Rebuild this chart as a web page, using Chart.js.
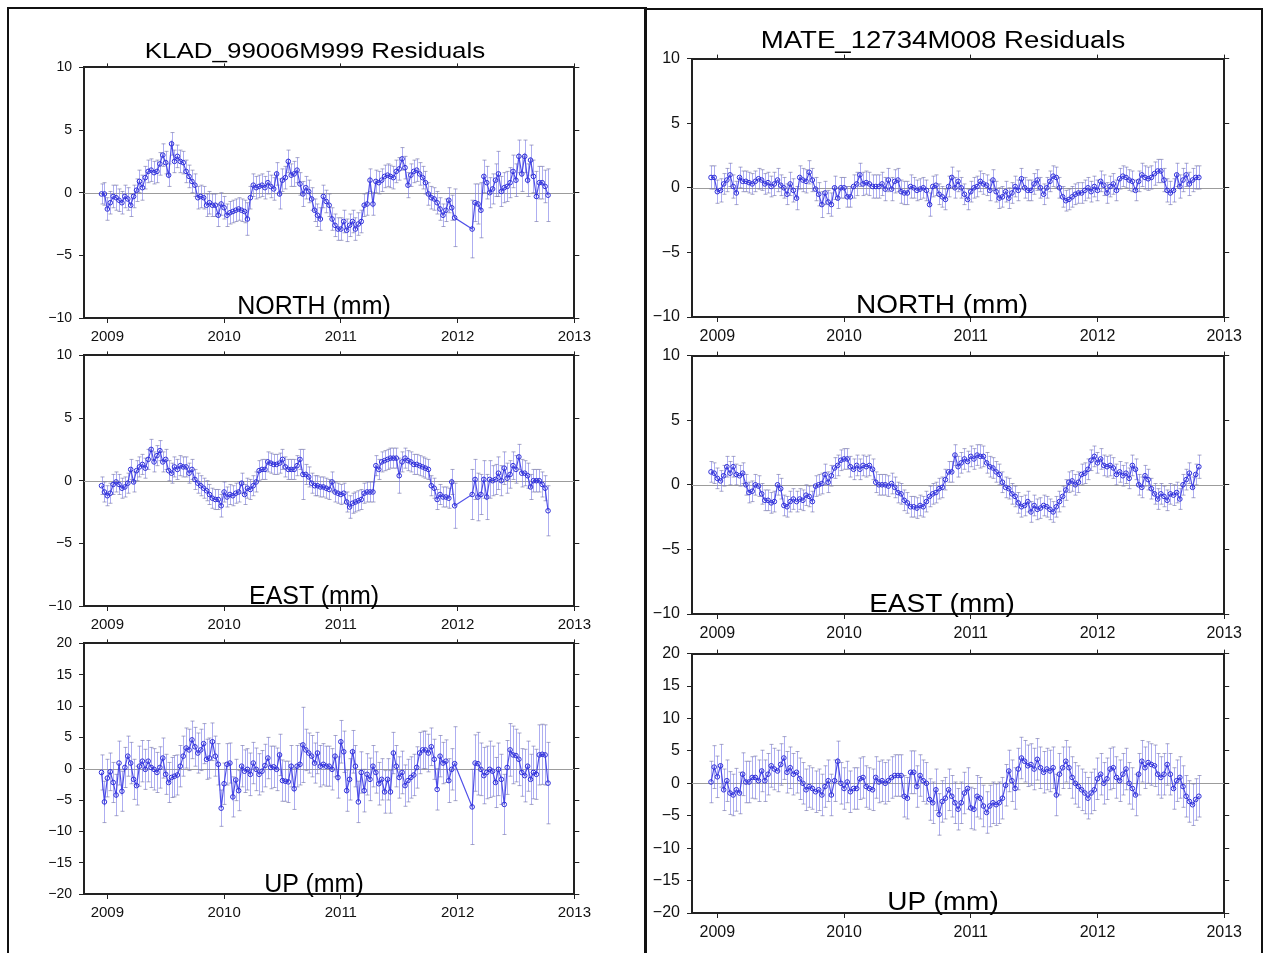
<!DOCTYPE html>
<html>
<head>
<meta charset="utf-8">
<script src="https://cdn.jsdelivr.net/npm/chart.js@4.4.1/dist/chart.umd.min.js"></script>
<style>
html, body { margin: 0; padding: 0; background: #fff; }
#page { position: relative; width: 1265px; height: 953px; overflow: hidden; font-family: "Liberation Sans", Arial, Helvetica, sans-serif; }
canvas { position: absolute; }
.frame { position: absolute; border: 2px solid #111; box-sizing: border-box; }
.lbl { position: absolute; white-space: nowrap; line-height: 1; color: #000; transform-origin: center center; }
</style>
</head>
<body>
<div id="page">
  <div class="frame" style="left:7px;top:7px;width:640px;height:970px;"></div>
  <div class="frame" style="left:644px;top:8px;width:619px;height:970px;"></div>

  <canvas id="kladNorth" width="572" height="296" style="left:24px;top:52px;"></canvas>
  <canvas id="kladEast"  width="572" height="296" style="left:24px;top:340px;"></canvas>
  <canvas id="kladUp"    width="572" height="296" style="left:24px;top:628px;"></canvas>
  <canvas id="mateNorth" width="615" height="305" style="left:632px;top:42px;"></canvas>
  <canvas id="mateEast"  width="615" height="305" style="left:632px;top:339px;"></canvas>
  <canvas id="mateUp"    width="615" height="306" style="left:632px;top:637px;"></canvas>

  <div class="lbl" style="left:315px;top:51px;font-size:22px;transform:translate(-50%,-50%) scaleX(1.18);">KLAD_99006M999 Residuals</div>
  <div class="lbl" style="left:943px;top:40px;font-size:23px;transform:translate(-50%,-50%) scaleX(1.2);">MATE_12734M008 Residuals</div>

  <div class="lbl" style="left:314px;top:305px;font-size:25px;transform:translate(-50%,-50%);">NORTH (mm)</div>
  <div class="lbl" style="left:314px;top:595px;font-size:25px;transform:translate(-50%,-50%);">EAST (mm)</div>
  <div class="lbl" style="left:314px;top:883px;font-size:25px;transform:translate(-50%,-50%);">UP (mm)</div>
  <div class="lbl" style="left:942px;top:304px;font-size:25px;transform:translate(-50%,-50%) scaleX(1.12);">NORTH (mm)</div>
  <div class="lbl" style="left:942px;top:603px;font-size:25px;transform:translate(-50%,-50%) scaleX(1.12);">EAST (mm)</div>
  <div class="lbl" style="left:943px;top:901px;font-size:25px;transform:translate(-50%,-50%) scaleX(1.12);">UP (mm)</div>
</div>

<script>
// axis ticks
const YEAR_TICKS = [2009, 2010, 2011, 2012, 2013];
const NE_TICKS = [-10, -5, 0, 5, 10];
const UP_TICKS = [-20, -15, -10, -5, 0, 5, 10, 15, 20];

// KLAD_99006M999 epochs (decimal year)
const KLAD_T = [
  2008.95,2008.975,2009.0,2009.025,2009.05,2009.075,2009.1,2009.125,
  2009.15,2009.175,2009.2,2009.225,2009.25,2009.275,2009.3,2009.325,
  2009.35,2009.375,2009.4,2009.425,2009.45,2009.475,2009.5,2009.525,
  2009.55,2009.575,2009.6,2009.625,2009.65,2009.675,2009.7,2009.725,
  2009.75,2009.775,2009.8,2009.825,2009.85,2009.875,2009.9,2009.925,
  2009.95,2009.975,2010.0,2010.025,2010.05,2010.075,2010.1,2010.125,
  2010.15,2010.175,2010.2,2010.225,2010.25,2010.275,2010.3,2010.325,
  2010.35,2010.375,2010.4,2010.425,2010.45,2010.475,2010.5,2010.525,
  2010.55,2010.575,2010.6,2010.625,2010.65,2010.675,2010.7,2010.725,
  2010.75,2010.775,2010.8,2010.825,2010.85,2010.875,2010.9,2010.925,
  2010.95,2010.975,2011.0,2011.025,2011.05,2011.075,2011.1,2011.125,
  2011.15,2011.175,2011.2,2011.225,2011.25,2011.275,2011.3,2011.325,
  2011.35,2011.375,2011.4,2011.425,2011.45,2011.475,2011.5,2011.525,
  2011.55,2011.575,2011.6,2011.625,2011.65,2011.675,2011.7,2011.725,
  2011.75,2011.775,2011.8,2011.825,2011.85,2011.875,2011.9,2011.925,
  2011.95,2011.975,
  2012.125,2012.15,2012.175,2012.2,2012.225,2012.25,2012.275,2012.3,
  2012.325,2012.35,2012.375,2012.4,2012.425,2012.45,2012.475,2012.5,
  2012.525,2012.55,2012.575,2012.6,2012.625,2012.65,2012.675,2012.7,
  2012.725,2012.75,2012.775
];

const KLAD_NORTH = [
  -0.1,-0.1,-1.3,-0.8,-0.3,-0.4,-0.6,-0.8,
  -0.3,-0.5,-1.0,-0.3,0.2,0.9,0.4,1.2,
  1.7,1.8,1.6,1.7,2.3,3.0,2.4,1.4,
  3.9,2.5,2.9,2.5,2.4,1.7,1.3,0.9,
  0.6,-0.4,-0.3,-0.4,-1.0,-0.8,-1.0,-1.0,
  -1.8,-0.9,-1.2,-1.8,-1.6,-1.5,-1.4,-1.3,
  -1.4,-1.5,-2.1,-0.4,0.6,0.4,0.5,0.6,
  0.4,0.8,0.5,0.3,1.5,-0.1,1.0,1.2,
  2.5,1.4,1.5,1.8,0.7,-0.1,0.4,0.1,
  -0.5,-1.4,-1.8,-2.1,-0.3,-0.7,-1.0,-2.1,
  -2.6,-2.9,-2.9,-2.3,-3.0,-2.6,-2.3,-2.9,
  -2.5,-2.3,-1.0,-0.9,1.0,-0.9,0.9,0.8,
  1.0,1.3,1.4,1.3,1.2,1.7,1.9,2.7,
  2.0,0.6,1.4,1.7,1.8,1.5,1.2,0.8,
  -0.1,-0.4,-0.5,-0.8,-1.3,-1.8,-1.4,-0.6,
  -1.2,-2.0,
  -2.9,-0.8,-0.9,-1.4,1.3,0.8,0.0,0.3,
  1.0,1.5,0.1,0.4,0.5,0.8,1.7,1.0,
  2.9,1.5,2.9,1.0,2.6,1.3,-0.3,0.8,
  0.8,0.5,-0.2
];
const KLAD_NORTH_ERR = [
  0.8,0.9,0.9,0.9,0.9,1.0,0.9,0.9,
  0.9,0.9,0.9,0.9,0.9,0.9,1.0,0.9,
  0.9,0.9,0.9,0.9,0.9,0.9,0.9,0.9,
  0.9,0.9,0.9,0.9,0.9,0.9,0.9,0.9,
  0.9,0.9,0.9,0.9,0.9,0.9,0.9,0.9,
  0.9,0.9,0.9,0.9,0.9,0.9,0.9,0.9,
  0.9,0.9,1.3,0.9,0.9,0.9,0.9,0.9,
  0.9,0.9,0.9,0.9,0.9,1.2,0.9,0.9,
  0.9,0.9,1.0,1.0,0.9,1.0,0.9,0.9,
  0.9,0.9,0.9,0.9,0.9,0.9,0.9,0.9,
  0.9,0.9,0.9,0.9,0.9,0.9,0.9,0.9,
  0.9,0.9,0.9,0.9,0.9,0.9,0.9,0.9,
  0.9,0.9,0.9,0.9,0.9,0.9,0.9,0.9,
  0.9,1.0,0.9,0.9,0.9,0.9,0.9,0.9,
  0.9,0.9,0.9,0.9,0.9,0.9,0.9,1.0,
  1.0,2.3,
  2.3,1.5,1.6,2.2,1.3,1.3,1.2,1.2,
  1.3,1.8,1.2,1.2,1.2,1.2,1.3,1.3,
  1.3,1.4,1.3,1.3,1.2,1.3,2.0,1.3,
  1.3,1.3,2.1
];

const KLAD_EAST = [
  -0.4,-0.9,-1.2,-1.0,-0.3,-0.1,-0.3,-0.6,
  -0.5,-0.2,0.9,-0.1,0.8,1.1,1.3,1.0,
  1.7,2.5,1.5,2.0,2.4,1.5,1.7,0.8,
  0.6,1.1,0.9,1.2,1.1,1.1,0.6,0.9,
  0.1,-0.2,-0.4,-0.6,-0.8,-1.1,-1.4,-1.5,
  -1.5,-2.0,-0.9,-1.3,-1.1,-1.2,-1.0,-0.9,
  -0.2,-1.1,-0.6,-0.7,-0.4,-0.1,0.8,0.9,
  0.9,1.5,1.4,1.3,1.3,1.4,1.7,1.1,
  0.9,0.9,0.9,1.2,1.7,0.5,0.5,0.3,
  -0.2,-0.4,-0.4,-0.5,-0.5,-0.6,-0.7,-0.1,
  -0.9,-1.0,-1.1,-1.0,-1.7,-2.1,-1.8,-1.7,
  -1.6,-1.5,-1.0,-0.9,-0.9,-0.9,1.2,0.9,
  1.5,1.6,1.7,1.8,1.8,1.8,0.4,1.5,
  1.8,1.6,1.5,1.3,1.3,1.2,1.1,1.0,
  0.9,-0.4,-0.6,-1.5,-1.1,-1.3,-1.3,-1.4,
  -0.1,-2.0,
  -1.1,0.1,-1.3,-1.1,0.1,-1.3,0.1,0.0,
  0.1,0.6,0.0,1.0,0.2,0.5,1.2,0.9,
  1.9,0.6,0.6,0.4,-0.5,0.0,0.0,0.0,
  -0.3,-0.6,-2.4
];
const KLAD_EAST_ERR = [
  0.7,0.8,0.8,0.8,0.8,0.8,0.8,0.8,
  0.8,0.8,0.8,0.8,0.8,0.8,0.8,0.8,
  0.8,0.8,0.8,0.8,0.8,0.8,0.8,0.8,
  0.8,0.8,0.8,0.8,0.8,0.8,0.8,0.8,
  0.8,0.8,0.8,0.8,0.8,0.8,0.8,0.8,
  0.8,0.9,0.8,0.8,0.8,0.8,0.8,0.8,
  0.8,0.8,0.8,0.8,0.8,0.8,0.8,0.8,
  0.8,0.8,0.8,0.8,0.8,0.8,0.8,0.8,
  0.8,0.8,0.8,0.8,0.8,2.0,0.8,0.8,
  0.8,0.8,0.8,0.8,0.8,0.8,0.8,0.8,
  0.8,0.8,0.8,0.8,0.8,0.9,0.8,0.8,
  0.8,0.8,0.8,0.8,0.8,0.8,0.8,0.8,
  0.8,0.8,0.8,0.8,0.8,0.8,1.4,0.8,
  0.8,0.8,0.8,0.8,0.8,0.8,0.8,0.8,
  0.8,0.8,0.8,0.8,0.8,0.8,0.8,0.8,
  1.0,1.8,
  2.0,1.6,1.9,1.6,1.5,1.8,1.5,1.2,
  1.2,1.3,1.2,1.3,1.2,1.1,1.1,1.1,
  1.0,1.1,1.0,1.0,1.0,0.9,0.9,0.9,
  1.0,1.0,2.0
];

const KLAD_UP = [
  -0.6,-5.3,-1.5,-0.5,-2.2,-4.2,0.9,-3.6,
  0.2,2.0,0.9,-1.7,-2.7,0.4,1.2,-0.1,
  1.2,0.2,-0.1,-0.6,0.2,1.7,-0.9,-2.2,
  -1.4,-1.2,-1.0,0.4,2.0,3.3,3.0,4.6,
  3.5,2.5,3.0,4.0,1.5,1.7,4.3,2.0,
  0.7,-6.3,-2.4,0.7,0.9,-4.5,-1.8,-3.5,
  0.4,-0.4,-0.1,-0.9,0.9,-0.1,-0.9,-0.4,
  0.5,1.7,0.2,0.3,-0.1,2.2,-1.9,-2.0,
  -2.1,0.4,-3.2,0.4,0.7,3.8,3.0,2.5,
  2.0,0.9,2.5,0.4,0.7,0.4,0.4,-0.1,
  2.0,-1.4,4.3,2.7,-3.5,-1.7,2.7,0.4,
  -5.3,-0.6,-3.5,-0.9,-1.7,0.4,-0.6,-2.4,
  -1.7,-3.7,-1.7,-3.7,2.5,0.4,-1.4,-0.6,
  -2.7,-1.9,-1.4,-1.0,0.2,2.5,3.0,3.0,
  2.5,3.5,1.5,-3.3,2.0,0.9,1.2,-1.9,
  -0.1,0.8,
  -6.1,0.9,0.8,-0.1,-1.1,-0.6,-0.1,-0.4,
  -2.2,-0.1,-1.7,-5.7,0.2,3.0,2.2,2.1,
  1.5,-0.6,-1.1,0.4,-1.7,-0.6,-0.9,2.2,
  2.3,2.2,-2.3
];
const KLAD_UP_ERR = [
  2.8,3.3,3.0,3.0,3.2,3.3,3.5,3.2,
  3.2,3.2,3.3,3.2,3.1,3.2,3.3,3.2,
  3.3,3.2,3.3,3.2,3.3,3.2,3.2,3.2,
  3.2,3.3,3.2,3.3,3.2,3.2,3.3,3.0,
  3.1,3.2,3.3,3.2,3.2,3.2,3.0,3.2,
  3.3,2.9,3.3,3.3,3.2,3.2,3.3,3.2,
  3.3,3.4,3.3,3.4,3.3,3.4,3.3,3.3,
  3.4,3.3,3.4,3.3,3.4,3.3,3.3,3.2,
  3.3,3.3,3.3,3.3,3.3,6.0,3.3,3.2,
  3.3,3.2,3.3,3.3,3.3,3.2,3.2,3.3,
  3.3,3.3,3.4,3.3,3.3,3.3,3.4,3.3,
  3.3,3.3,3.4,3.3,3.4,3.3,3.3,3.4,
  3.3,3.4,3.3,3.4,3.3,3.3,3.3,3.4,
  3.3,3.4,3.3,3.3,3.3,3.3,3.0,3.0,
  3.0,3.0,3.2,3.3,3.3,3.3,3.4,3.5,
  3.3,5.9,
  6.0,4.5,5.0,4.2,4.5,4.2,4.5,4.0,
  4.0,4.2,4.0,4.8,4.3,4.2,4.6,4.2,
  4.2,3.8,4.2,4.0,4.0,4.2,4.0,4.8,
  4.8,4.8,6.5
];

// MATE_12734M008 epochs (decimal year)
const MATE_T = [
  2008.95,2008.975,2009.0,2009.025,2009.05,2009.075,2009.1,2009.125,
  2009.15,2009.175,2009.2,2009.225,2009.25,2009.275,2009.3,2009.325,
  2009.35,2009.375,2009.4,2009.425,2009.45,2009.475,2009.5,2009.525,
  2009.55,2009.575,2009.6,2009.625,2009.65,2009.675,2009.7,2009.725,
  2009.75,2009.775,2009.8,2009.825,2009.85,2009.875,2009.9,2009.925,
  2009.95,2009.975,2010.0,2010.025,2010.05,2010.075,2010.1,2010.125,
  2010.15,2010.175,2010.2,2010.225,2010.25,2010.275,2010.3,2010.325,
  2010.35,2010.375,2010.4,2010.425,2010.45,2010.475,2010.5,2010.525,
  2010.55,2010.575,2010.6,2010.625,2010.65,2010.675,2010.7,2010.725,
  2010.75,2010.775,2010.8,2010.825,2010.85,2010.875,2010.9,2010.925,
  2010.95,2010.975,2011.0,2011.025,2011.05,2011.075,2011.1,2011.125,
  2011.15,2011.175,2011.2,2011.225,2011.25,2011.275,2011.3,2011.325,
  2011.35,2011.375,2011.4,2011.425,2011.45,2011.475,2011.5,2011.525,
  2011.55,2011.575,2011.6,2011.625,2011.65,2011.675,2011.7,2011.725,
  2011.75,2011.775,2011.8,2011.825,2011.85,2011.875,2011.9,2011.925,
  2011.95,2011.975,2012.0,2012.025,2012.05,2012.075,2012.1,2012.125,
  2012.15,2012.175,2012.2,2012.225,2012.25,2012.275,2012.3,2012.325,
  2012.35,2012.375,2012.4,2012.425,2012.45,2012.475,2012.5,2012.525,
  2012.55,2012.575,2012.6,2012.625,2012.65,2012.675,2012.7,2012.725,
  2012.75,2012.775,2012.8
];

const MATE_NORTH = [
  0.8,0.8,-0.3,-0.2,0.3,0.6,1.0,0.1,
  -0.4,0.8,0.5,0.5,0.4,0.3,0.5,0.7,
  0.6,0.3,0.4,0.1,0.3,0.6,0.2,0.0,
  -0.5,0.3,-0.2,-0.8,0.8,0.6,0.5,1.2,
  0.6,-0.1,-0.5,-1.3,-0.4,-1.1,-1.3,0.0,
  -0.8,0.0,0.0,-0.7,-0.7,0.1,0.3,1.0,
  0.3,0.4,0.3,0.1,0.1,0.1,0.3,-0.1,
  0.6,-0.1,0.5,0.6,-0.3,-0.4,-0.4,0.1,
  0.0,-0.2,-0.1,0.0,-0.2,-1.3,0.1,0.2,
  -0.5,-0.7,-0.9,0.1,0.8,0.0,0.5,0.0,
  -0.5,-0.9,-0.3,0.0,0.1,0.5,0.3,0.2,
  -0.2,0.6,-0.3,-0.8,-0.7,-0.3,-0.8,-0.4,
  0.1,-0.2,0.7,0.0,-0.2,-0.2,0.3,0.6,
  0.0,-0.5,0.0,0.5,0.9,0.8,0.0,-0.7,
  -1.0,-0.9,-0.7,-0.5,-0.4,-0.4,-0.2,0.0,
  -0.3,0.1,-0.2,0.5,0.2,-0.4,0.1,0.3,
  -0.2,0.7,0.9,0.8,0.6,0.5,-0.2,0.5,
  1.0,0.8,0.7,0.8,1.1,1.3,1.3,0.6,
  -0.2,-0.4,-0.2,1.0,0.1,0.6,1.0,0.3,
  0.6,0.8,0.8
];
const MATE_NORTH_ERR = [
  0.9,0.9,0.9,0.9,0.8,0.9,0.9,0.9,
  0.9,0.8,0.8,0.8,0.8,0.8,0.8,0.8,
  0.8,0.8,0.8,0.8,0.9,0.9,0.8,0.8,
  0.8,0.9,0.9,0.9,0.9,0.9,0.9,0.9,
  0.9,0.9,0.9,1.0,0.9,0.9,0.9,0.9,
  0.8,0.8,0.8,0.8,0.8,0.9,0.9,0.9,
  0.9,0.9,0.9,0.9,0.9,0.9,0.9,0.9,
  0.9,0.9,0.9,0.9,0.9,0.9,0.9,0.9,
  0.8,0.8,0.8,0.8,0.8,0.9,0.8,0.8,
  0.8,0.8,0.8,0.8,0.8,0.8,0.8,0.8,
  0.8,0.8,0.8,0.8,0.8,0.8,0.8,0.8,
  0.8,0.8,0.8,0.8,0.8,0.8,0.8,0.8,
  0.8,0.8,0.8,0.8,0.8,0.8,0.8,0.8,
  0.8,0.8,0.8,0.8,0.8,0.8,0.8,0.8,
  0.8,0.8,0.8,0.8,0.8,0.8,0.8,0.8,
  0.8,0.8,0.8,0.8,0.8,0.8,0.8,0.8,
  0.8,0.8,0.8,0.8,0.8,0.8,0.8,0.8,
  0.9,0.9,0.9,0.9,0.9,0.9,0.9,0.9,
  0.9,0.9,0.9,0.9,0.9,0.9,0.9,0.9,
  0.9,0.9,0.9
];

const MATE_EAST = [
  1.0,0.9,0.5,0.3,0.7,1.4,0.9,1.4,
  0.8,0.7,0.9,0.0,-0.6,-0.5,0.0,-0.1,
  -0.7,-1.2,-1.2,-1.4,-1.3,0.0,-0.3,-1.6,
  -1.7,-1.3,-1.1,-1.3,-1.1,-1.2,-0.8,-0.9,
  -1.3,-0.1,0.0,0.1,0.8,0.2,0.7,1.3,
  1.5,1.9,2.0,2.0,1.4,1.2,1.5,1.2,
  1.5,1.4,1.5,1.2,0.2,0.0,0.0,0.0,
  -0.1,0.1,-0.2,-0.6,-0.7,-1.2,-1.4,-1.7,
  -1.7,-1.8,-1.6,-1.7,-1.3,-0.9,-0.7,-0.6,
  -0.3,-0.2,0.4,1.0,1.0,2.3,1.4,1.7,
  2.0,1.8,2.2,2.0,2.3,2.2,2.2,1.7,
  1.4,1.3,1.0,0.8,0.2,-0.2,-0.3,-0.7,
  -0.9,-1.4,-1.7,-1.6,-1.3,-2.1,-1.6,-1.9,
  -1.8,-1.6,-1.7,-1.9,-2.1,-1.7,-1.3,-0.9,
  -0.4,0.2,0.3,0.0,0.2,0.8,0.9,1.2,
  1.9,2.2,1.7,2.0,1.5,1.4,1.5,1.3,
  0.8,1.0,0.7,0.9,0.5,1.5,1.2,0.0,
  -0.2,0.7,0.4,-0.3,-0.7,-1.1,-0.7,-0.9,
  -1.2,-0.7,-0.8,-0.6,-1.1,0.0,0.4,0.9,
  -0.2,0.8,1.4
];
const MATE_EAST_ERR = [
  0.8,0.8,0.8,0.8,0.8,0.8,0.9,0.8,
  0.8,0.8,0.8,0.8,0.8,0.8,0.8,0.8,
  0.8,0.8,0.8,0.8,0.8,0.8,0.8,0.8,
  0.8,0.8,0.8,0.8,0.8,0.8,0.8,0.8,
  0.8,0.8,0.8,0.8,0.8,0.8,0.8,0.8,
  0.8,0.8,0.8,0.8,0.8,0.8,0.8,0.8,
  0.8,0.8,0.8,0.8,0.8,0.8,0.8,0.8,
  0.8,0.8,0.8,0.8,0.8,0.8,0.8,0.8,
  0.8,0.8,0.8,0.8,0.8,0.8,0.8,0.8,
  0.8,0.8,0.8,0.8,0.8,0.8,0.8,0.8,
  0.8,0.8,0.8,0.8,0.8,0.9,0.8,0.8,
  0.8,0.8,0.8,0.8,0.8,0.8,0.8,0.8,
  0.8,0.8,0.8,0.8,0.8,0.8,0.8,0.8,
  0.8,0.8,0.8,0.8,0.8,0.8,0.8,0.8,
  0.8,0.8,0.8,0.8,0.8,0.8,0.8,0.8,
  0.8,0.8,0.8,0.8,0.8,0.8,0.8,0.8,
  0.8,0.8,0.8,0.8,0.8,0.8,0.8,0.8,
  0.8,0.8,0.8,0.8,0.8,0.8,0.8,0.8,
  0.8,0.8,0.8,0.8,0.8,0.8,0.8,0.8,
  0.8,0.8,0.9
];

const MATE_UP = [
  0.2,2.5,1.0,2.7,-1.0,0.4,-1.5,-1.8,
  -1.0,-1.5,1.4,0.2,0.2,0.9,0.9,0.4,
  1.9,0.4,1.4,2.7,2.2,1.9,2.9,3.9,
  1.7,2.4,1.4,1.7,0.7,0.0,-1.0,-0.5,
  -0.8,-1.3,-1.0,-1.8,-0.5,0.4,-1.8,0.4,
  3.4,0.0,-0.8,0.2,-1.3,-0.8,-0.8,0.7,
  0.9,-0.5,-0.8,-1.0,0.9,0.2,0.4,0.0,
  0.4,0.9,1.2,1.2,1.2,-2.0,-2.3,1.7,
  1.7,-0.5,1.2,0.4,0.0,-2.5,-3.0,-1.0,
  -4.8,-2.8,-2.3,-1.0,-2.0,-3.0,-4.0,-3.0,
  -1.5,-0.8,-3.8,-4.0,-2.0,-2.3,-3.5,-4.5,
  -3.5,-3.0,-3.3,-3.0,-2.3,-0.3,1.9,0.4,
  -0.8,2.2,3.9,3.4,2.7,2.9,2.2,3.7,
  2.4,1.7,2.2,1.9,2.4,-1.8,1.4,2.4,
  3.4,2.4,0.9,0.0,-0.5,-1.0,-1.5,-2.3,
  -1.5,-1.0,0.7,1.4,0.0,0.7,2.2,2.4,
  0.9,0.4,1.4,2.2,0.0,-0.8,-1.8,1.4,
  3.4,2.4,3.2,2.9,2.7,1.4,0.9,1.4,
  2.9,1.4,-0.8,0.4,0.9,-0.5,-2.0,-2.8,
  -3.3,-2.5,-2.0
];
const MATE_UP_ERR = [
  3.2,3.3,3.2,3.3,3.2,3.2,3.3,3.2,
  3.3,3.2,3.3,3.2,3.2,3.2,3.3,3.2,
  3.2,3.2,3.2,3.3,3.2,3.2,3.2,3.3,
  3.2,3.2,3.2,3.2,3.2,3.2,3.2,3.2,
  3.2,3.2,3.2,3.2,3.2,3.2,3.2,3.2,
  3.1,3.2,3.2,3.2,3.2,3.2,3.2,3.2,
  3.2,3.2,3.2,3.2,3.2,3.2,3.2,3.2,
  3.2,3.2,3.2,3.2,3.2,3.2,3.2,3.3,
  3.3,3.2,3.2,3.2,3.2,3.2,3.2,3.2,
  3.2,3.2,3.2,3.2,3.2,3.2,3.2,3.2,
  3.2,3.2,3.2,3.2,3.2,3.2,3.2,3.2,
  3.2,3.2,3.2,3.2,3.2,3.2,3.2,3.2,
  3.2,3.2,3.2,3.2,3.2,3.2,3.2,3.2,
  3.2,3.2,3.2,3.2,3.2,3.2,3.2,3.2,
  3.2,3.2,3.2,3.2,3.2,3.2,3.2,3.2,
  3.2,3.2,3.2,3.2,3.2,3.2,3.2,3.2,
  3.2,3.2,3.2,3.2,3.2,3.2,3.2,3.2,
  3.2,3.2,3.2,3.2,3.2,3.2,3.2,3.2,
  3.2,3.2,3.2,3.2,3.2,3.2,3.2,3.2,
  3.2,3.2,3.2
];

const X_MIN = 2008.8, X_MAX = 2013;

// zero line + error bars, drawn under the series
const errorBars = {
  id: 'errorBars',
  beforeDatasetsDraw(chart) {
    const { ctx, chartArea: a, scales: { x, y } } = chart;
    ctx.save();
    ctx.beginPath();
    ctx.rect(a.left, a.top, a.width, a.height);
    ctx.clip();
    const y0 = Math.round(y.getPixelForValue(0)) + 0.5;
    ctx.strokeStyle = '#9c9c9c';
    ctx.lineWidth = 1;
    ctx.beginPath();
    ctx.moveTo(a.left, y0);
    ctx.lineTo(a.right, y0);
    ctx.stroke();
    chart.data.datasets.forEach(ds => {
      ds.data.forEach((p, i) => {
        const e = ds.err[i];
        const px = Math.round(x.getPixelForValue(p.x)) + 0.5;
        const top = y.getPixelForValue(p.y + e);
        const bot = y.getPixelForValue(p.y - e);
        ctx.strokeStyle = 'rgba(120,120,232,0.6)';
        ctx.beginPath();
        ctx.moveTo(px, top);
        ctx.lineTo(px, bot);
        ctx.stroke();
        ctx.strokeStyle = 'rgba(110,110,160,0.6)';
        ctx.beginPath();
        ctx.moveTo(px - 2, top); ctx.lineTo(px + 2, top);
        ctx.moveTo(px - 2, bot); ctx.lineTo(px + 2, bot);
        ctx.stroke();
      });
    });
    ctx.restore();
  }
};

const fmtY = v => (v < 0 ? '\u2212' + (-v) : String(v));

function xAxis(position, labels, fontSize) {
  return {
    type: 'linear', position, min: X_MIN, max: X_MAX,
    afterBuildTicks: s => { s.ticks = YEAR_TICKS.map(v => ({ value: v })); },
    ticks: { display: labels, callback: v => String(v), color: '#111', font: { size: fontSize }, padding: 5, maxRotation: 0, autoSkip: false },
    grid: { drawOnChartArea: false, drawTicks: true, tickLength: labels ? 5 : 4, color: '#222', lineWidth: 1 },
    border: { display: true, color: '#222', width: 2 },
    afterFit: s => { s.height = labels ? 30 : 10; }
  };
}

function yAxis(position, labels, min, max, ticks, fontSize) {
  return {
    type: 'linear', position, min, max,
    afterBuildTicks: s => { s.ticks = ticks.map(v => ({ value: v })); },
    ticks: { display: labels, callback: fmtY, color: '#111', font: { size: fontSize }, padding: 7 },
    grid: { drawOnChartArea: false, drawTicks: true, tickLength: 5, color: '#222', lineWidth: 1 },
    border: { display: true, color: '#222', width: 2 },
    afterFit: s => { s.width = labels ? 60 : 20; }
  };
}

function panel(id, times, values, errors, min, max, ticks, yFont, xFont) {
  const data = times.map((t, i) => ({ x: t, y: values[i] }));
  new Chart(document.getElementById(id), {
    type: 'line',
    data: {
      datasets: [{
        data,
        err: errors,
        borderColor: 'rgba(60,60,230,0.9)',
        borderWidth: 1.2,
        pointRadius: 2.3,
        pointBorderColor: '#2f2fd8',
        pointBackgroundColor: 'rgba(255,255,255,0)',
        pointBorderWidth: 1,
        tension: 0,
        fill: false
      }]
    },
    options: {
      responsive: false,
      animation: false,
      devicePixelRatio: 1,
      layout: { padding: 0 },
      plugins: { legend: { display: false }, tooltip: { enabled: false } },
      scales: {
        x: xAxis('bottom', true, xFont),
        xTop: xAxis('top', false, xFont),
        y: yAxis('left', true, min, max, ticks, yFont),
        yRight: yAxis('right', false, min, max, ticks, yFont)
      }
    },
    plugins: [errorBars]
  });
}

Chart.defaults.font.family = '"Liberation Sans", Arial, Helvetica, sans-serif';

panel('kladNorth', KLAD_T, KLAD_NORTH, KLAD_NORTH_ERR, -10, 10, NE_TICKS, 14, 15);
panel('kladEast',  KLAD_T, KLAD_EAST,  KLAD_EAST_ERR,  -10, 10, NE_TICKS, 14, 15);
panel('kladUp',    KLAD_T, KLAD_UP,    KLAD_UP_ERR,    -20, 20, UP_TICKS, 14, 15);
panel('mateNorth', MATE_T, MATE_NORTH, MATE_NORTH_ERR, -10, 10, NE_TICKS, 16, 16);
panel('mateEast',  MATE_T, MATE_EAST,  MATE_EAST_ERR,  -10, 10, NE_TICKS, 16, 16);
panel('mateUp',    MATE_T, MATE_UP,    MATE_UP_ERR,    -20, 20, UP_TICKS, 16, 16);
</script>
</body>
</html>
